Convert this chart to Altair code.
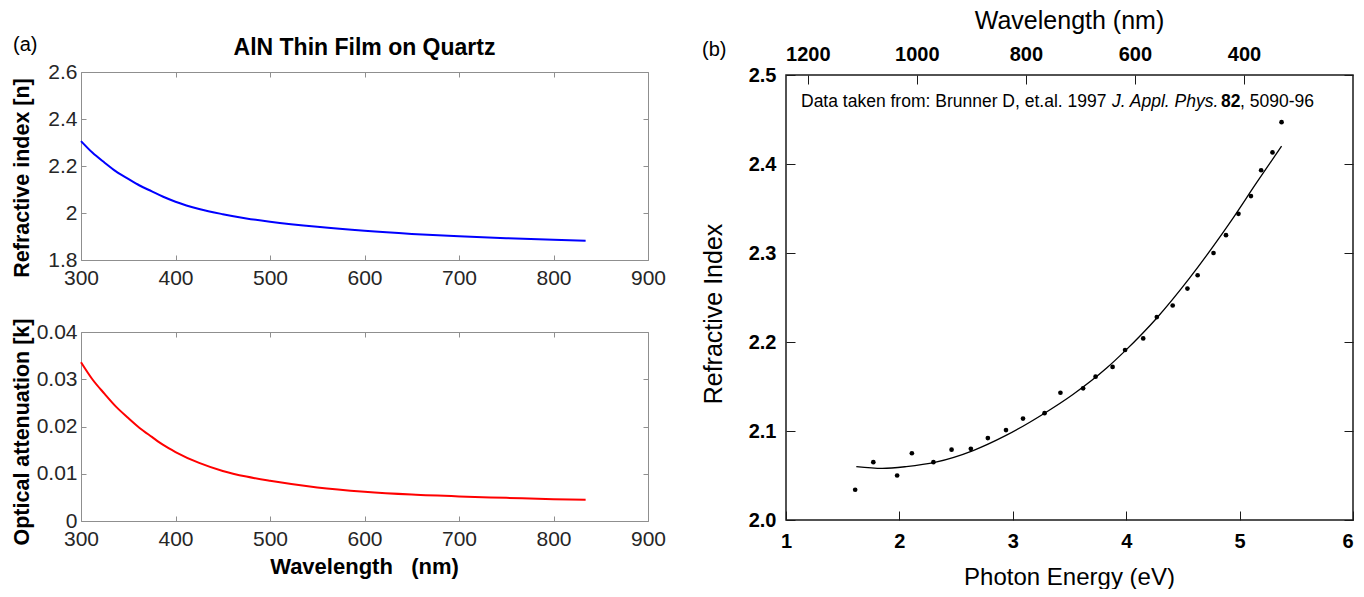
import altair as alt
import pandas as pd

FONT = "Liberation Sans"

# ---------------- data: panel (a) ----------------
wl_n = [300, 312, 325, 337, 350, 362, 375, 387, 400, 425, 450, 475, 500, 550, 600, 650, 700,
        750, 800, 834]
n_vals = [2.306, 2.257, 2.214, 2.177, 2.145, 2.117, 2.092, 2.069, 2.048, 2.017, 1.995, 1.977,
          1.963, 1.941, 1.924, 1.911, 1.901, 1.893, 1.886, 1.882]
wl_k = [300, 312, 325, 337, 350, 362, 375, 387, 400, 425, 450, 475, 500, 550, 600, 650, 700,
        750, 800, 834]
k_vals = [0.0336, 0.0300, 0.0269, 0.0242, 0.0218, 0.0197, 0.0178, 0.0161, 0.0146, 0.0123,
          0.0106, 0.0094, 0.0085, 0.0071, 0.0062, 0.0056, 0.0052, 0.0049, 0.0046, 0.0045]
wl_ticks_a = [300, 400, 500, 600, 700, 800, 900]
n_ticks = [1.8, 2.0, 2.2, 2.4, 2.6]
k_ticks = [0.0, 0.01, 0.02, 0.03, 0.04]

# ---------------- data: panel (b) ----------------
E_pts = [1.61, 1.77, 1.98, 2.11, 2.30, 2.46, 2.63, 2.78, 2.94, 3.09, 3.28, 3.42, 3.62, 3.73,
         3.88, 3.99, 4.15, 4.27, 4.41, 4.54, 4.63, 4.77, 4.88, 4.99, 5.10, 5.19, 5.29, 5.37]
n_pts = [2.034, 2.065, 2.050, 2.075, 2.065, 2.079, 2.080, 2.092, 2.101, 2.114, 2.120, 2.143,
         2.148, 2.161, 2.172, 2.191, 2.204, 2.228, 2.241, 2.260, 2.275, 2.300, 2.320, 2.344,
         2.364, 2.393, 2.413, 2.447]
E_fit = [1.62, 1.85, 2.06, 2.32, 2.65, 2.94, 3.28, 3.53, 3.83, 3.99, 4.27, 4.56, 4.77, 4.93,
         5.15, 5.37]
n_fit = [2.060, 2.058, 2.060, 2.065, 2.078, 2.095, 2.120, 2.141, 2.171, 2.190, 2.227, 2.272,
         2.308, 2.337, 2.379, 2.420]
E_ticks = [1, 2, 3, 4, 5, 6]
wl_ticks_b = [1200, 1000, 800, 600, 400]
nb_ticks = [2.0, 2.1, 2.2, 2.3, 2.4, 2.5]

n_df = pd.DataFrame({"wl": wl_n, "n": n_vals})
k_df = pd.DataFrame({"wl": wl_k, "k": k_vals})
pts_df = pd.DataFrame({"E": E_pts, "n": n_pts})
fit_df = pd.DataFrame({"E": E_fit, "n": n_fit})
lam_df = pd.DataFrame({"wl": wl_ticks_b, "yv": [2.25] * len(wl_ticks_b)})

GRAY = "#8f8f8f"
DARK = "#262626"


def ax(orient, values, labels=True, fmt=None, tick=5, color=GRAY, lsize=21,
       lweight="normal", lpad=7, lcolor=DARK, **extra):
    kw = dict(orient=orient, values=values, title=None, grid=False, domain=False,
              offset=-tick, tickSize=tick, tickColor=color, tickWidth=1, labels=labels,
              labelFlush=False, labelOverlap=False)
    if labels:
        kw.update(labelFontSize=lsize, labelFontWeight=lweight, labelPadding=lpad,
                  labelColor=lcolor, labelFont=FONT)
    if fmt:
        kw["format"] = fmt
    kw.update(extra)
    return alt.Axis(**kw)


def txt(s, x, y, size, weight="normal", style="normal", align="left",
        baseline="alphabetic", angle=0, color="#000000"):
    kw = dict(align=align, baseline=baseline, fontSize=size, fontWeight=weight,
              fontStyle=style, color=color, font=FONT)
    if angle:
        kw["angle"] = angle
    return alt.Chart(pd.DataFrame({"t": [s]})).mark_text(**kw).encode(
        text="t:N", x=alt.value(x), y=alt.value(y))


W = 567

# ---------------- panel (a) top ----------------
xs_a = alt.Scale(domain=[300, 900], nice=False)
ys_n = alt.Scale(domain=[1.8, 2.6], nice=False, zero=False)
n_line = alt.Chart(n_df).mark_line(color="#0000ff", strokeWidth=2, interpolate="monotone").encode(
    x=alt.X("wl:Q", scale=xs_a, axis=ax("bottom", wl_ticks_a)),
    y=alt.Y("n:Q", scale=ys_n, axis=ax("left", n_ticks, fmt=".2~f", lpad=4)),
)
n_frame = alt.Chart(n_df).mark_line(opacity=0).encode(
    x=alt.X("wl:Q", scale=xs_a, axis=ax("top", wl_ticks_a, labels=False)),
    y=alt.Y("n:Q", scale=ys_n, axis=ax("right", n_ticks, labels=False)),
)
top_chart = alt.layer(
    n_line, n_frame,
    txt("(a)", -68, -21, 20),
    txt("AlN Thin Film on Quartz", W / 2, -17, 23, weight="bold", align="center"),
    txt("Refractive index [n]", -52.5, 106, 21.5, weight="bold", align="center", angle=270),
).resolve_axis(x="independent", y="independent").properties(
    width=W, height=188, view=alt.ViewBackground(stroke=GRAY, strokeWidth=1))

# ---------------- panel (a) bottom ----------------
ys_k = alt.Scale(domain=[0, 0.04], nice=False)
k_line = alt.Chart(k_df).mark_line(color="#ff0000", strokeWidth=2, interpolate="monotone").encode(
    x=alt.X("wl:Q", scale=xs_a, axis=ax("bottom", wl_ticks_a)),
    y=alt.Y("k:Q", scale=ys_k, axis=ax("left", k_ticks, fmt=".2~f", lpad=4)),
)
k_frame = alt.Chart(k_df).mark_line(opacity=0).encode(
    x=alt.X("wl:Q", scale=xs_a, axis=ax("top", wl_ticks_a, labels=False)),
    y=alt.Y("k:Q", scale=ys_k, axis=ax("right", k_ticks, labels=False)),
)
bottom_chart = alt.layer(
    k_line, k_frame,
    txt("Optical attenuation [k]", -52.5, 100, 21.5, weight="bold", align="center", angle=270),
    txt("Wavelength\u00a0\u00a0\u00a0(nm)", W / 2, 242, 22, weight="bold", align="center"),
).resolve_axis(x="independent", y="independent").properties(
    width=W, height=189, view=alt.ViewBackground(stroke=GRAY, strokeWidth=1))

# ---------------- panel (b) ----------------
BLK = "#1a1a1a"
xs_b = alt.Scale(domain=[1, 6], nice=False)
ys_b = alt.Scale(domain=[2.0, 2.5], nice=False, zero=False)
pts = alt.Chart(pts_df).mark_circle(color="#000000", size=22, opacity=1).encode(
    x=alt.X("E:Q", scale=xs_b, axis=ax(
        "bottom", E_ticks, tick=9, color=BLK, lsize=20, lweight="bold", lpad=11,
        lcolor="#000000",
        labelAlign={"condition": {"test": "datum.value == 6", "value": "right"},
                    "value": "center"})),
    y=alt.Y("n:Q", scale=ys_b, axis=ax("left", nb_ticks, fmt=".1f", tick=9, color=BLK, lsize=20,
                                        lweight="bold", lpad=10, lcolor="#000000")),
)
fit = alt.Chart(fit_df).mark_line(color="#000000", strokeWidth=1.3, interpolate="monotone").encode(
    x=alt.X("E:Q", scale=xs_b, axis=None),
    y=alt.Y("n:Q", scale=ys_b, axis=None),
)
lam = alt.Chart(lam_df).mark_point(opacity=0).encode(
    x=alt.X("wl:Q", scale=alt.Scale(domain=[1240, 200], nice=False),
            axis=ax("top", wl_ticks_b, fmt="d", tick=9, color=BLK, lsize=20, lweight="bold",
                    lpad=11, lcolor="#000000")),
    y=alt.Y("yv:Q", scale=ys_b, axis=ax("right", nb_ticks, labels=False, tick=9, color=BLK)),
)
ANN = 17.5
right_chart = alt.layer(
    pts, fit, lam,
    txt("(b)", -84, -19, 20),
    txt("Wavelength (nm)", W / 2, -46, 25, align="center"),
    txt("Photon Energy (eV)", W / 2, 510, 24, align="center"),
    txt("Refractive Index", -64.5, 239, 25, align="center", angle=270),
    txt("Data taken from: Brunner D, et.al. 1997", 15, 31.5, ANN),
    txt("J. Appl. Phys.", 326, 31.5, ANN, style="italic"),
    txt("82", 435, 31.5, ANN, weight="bold"),
    txt(", 5090-96", 454, 31.5, ANN),
).resolve_scale(x="independent").resolve_axis(x="independent", y="independent").properties(
    width=W, height=445, view=alt.ViewBackground(stroke=BLK, strokeWidth=1.5))

spacer = alt.Chart(pd.DataFrame({"a": [0]})).mark_point(opacity=0).encode(
    x=alt.X("a:Q", axis=None), y=alt.Y("a:Q", axis=None)
).properties(width=1, height=1, view=alt.ViewBackground(stroke="transparent"))

left_col = alt.vconcat(top_chart, bottom_chart, spacing=72, bounds="flush")
right_col = alt.vconcat(spacer, right_chart, spacing=2, bounds="flush")

# nested flush columns count as zero width, so the spacing is the full offset
chart = alt.hconcat(left_col, right_col, spacing=705, bounds="flush").properties(
    autosize=alt.AutoSizeParams(type="none"),
    padding={"left": 73, "top": 64, "right": 1275, "bottom": 517},
    background="white",
).configure(font=FONT).configure_view(stroke="transparent")

chart.save("out.html", embed_options={"renderer": "svg", "actions": False})
